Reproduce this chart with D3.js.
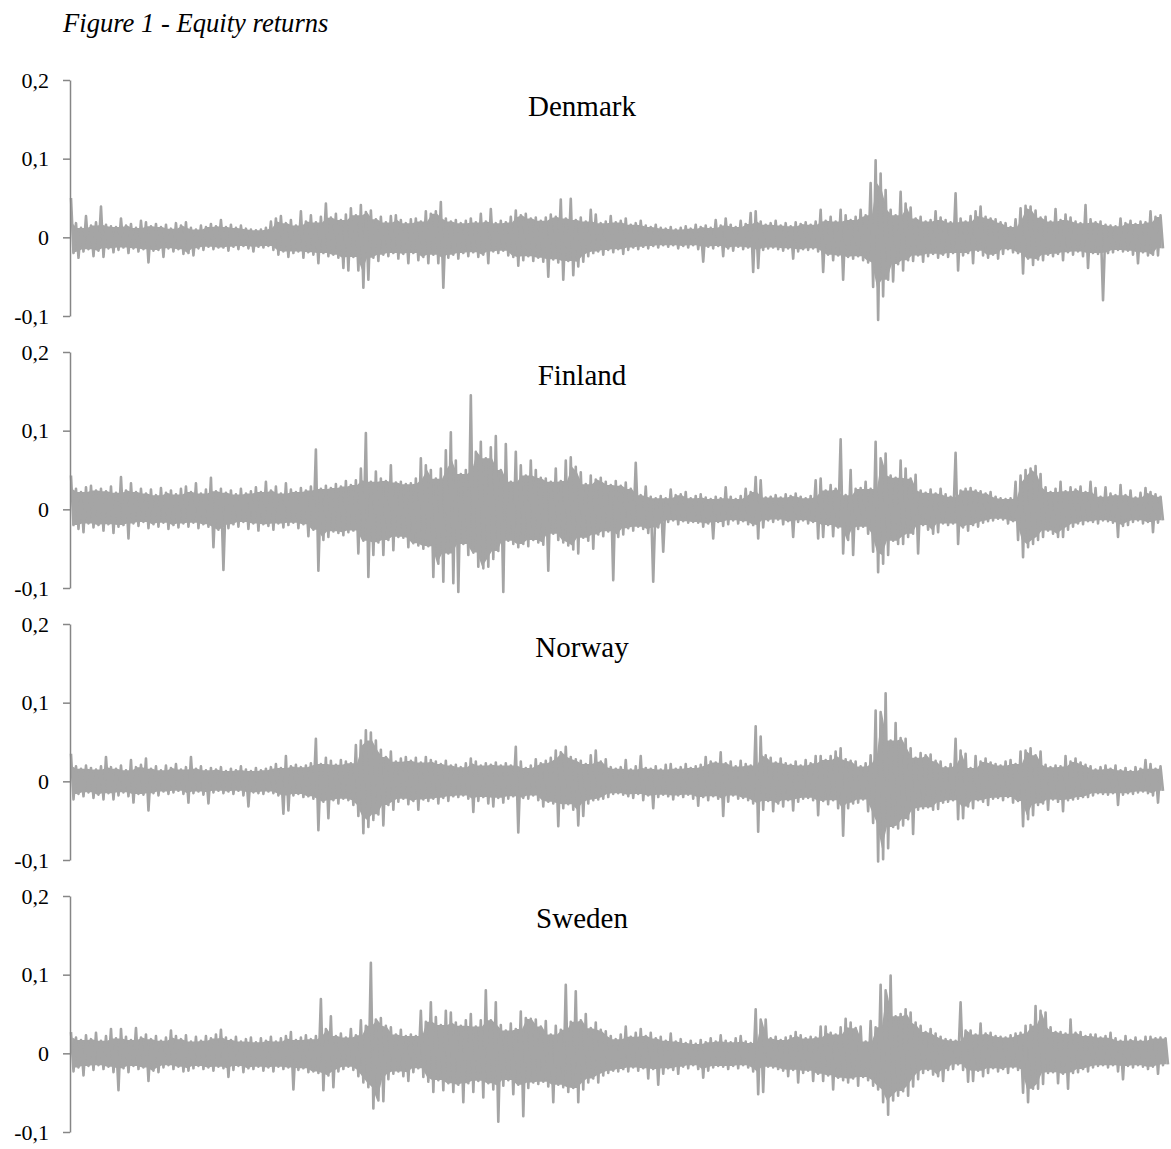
<!DOCTYPE html>
<html>
<head>
<meta charset="utf-8">
<script src="https://cdn.jsdelivr.net/npm/d3@7"></script>
<style>
  body { margin: 0; background: #fff; }
</style>
</head>
<body>
<svg id="chart" width="1171" height="1149"></svg>
<script>
// Daily equity returns (percent). Each pair high/low is the highest and the
// lowest return within one short run of consecutive trading days.
const countries = ["Denmark", "Finland", "Norway", "Sweden"];
const yTicks = [-0.1, 0, 0.1, 0.2];
const title = "Figure 1 - Equity returns";

const denmarkHigh = [
  5.0,1.8,1.2,2.7,1.5,1.9,3.9,1.6,1.4,1.3, 2.4,1.5,1.7,1.2,2.1,1.9,1.4,1.7,1.3,1.6,
  1.1,1.8,1.5,1.9,1.2,1.0,1.5,1.3,1.7,1.4, 2.2,1.3,1.6,1.2,1.5,1.1,1.0,0.9,1.0,1.2,
  2.0,2.4,2.7,1.8,2.2,1.5,3.3,2.0,2.8,1.9, 2.6,4.3,2.5,3.0,2.2,2.9,3.7,2.8,4.1,3.2,
  3.4,2.3,2.6,1.9,2.7,2.8,2.2,1.8,2.3,2.4, 2.0,3.3,3.0,3.3,4.5,2.4,2.0,2.2,1.8,2.1,
  2.4,1.9,3.0,2.0,3.6,1.8,2.1,1.9,2.6,3.4, 2.8,3.0,2.4,2.5,2.1,2.5,2.9,2.6,4.8,2.4,
  4.9,2.2,2.5,2.0,3.5,2.9,1.8,2.0,2.7,1.9, 2.1,2.4,1.6,1.8,2.1,1.5,1.3,1.6,1.2,1.1,
  1.3,1.0,1.2,1.4,1.1,1.6,1.3,1.5,1.2,2.2, 1.5,2.4,1.6,1.3,2.1,1.7,3.1,3.3,2.0,1.6,
  1.8,2.1,1.5,1.8,1.4,1.9,1.7,1.9,1.6,2.0, 3.5,2.1,2.6,2.0,3.5,2.8,2.2,2.6,3.5,2.8,
  6.9,9.8,8.1,6.0,3.5,2.8,5.8,4.3,3.8,2.4, 2.6,2.0,2.2,3.3,2.5,2.2,1.9,5.6,2.4,2.0,
  2.7,3.3,3.9,2.6,2.4,2.3,1.9,1.8,1.3,2.3, 3.7,4.0,3.9,3.4,2.5,2.6,2.0,3.6,2.2,2.9,
  2.5,2.0,1.8,4.1,2.3,1.9,2.0,1.6,1.5,1.4, 2.4,1.8,2.1,1.7,2.0,1.9,3.3,2.6,2.8
];
const denmarkLow = [
  -2.0,-2.6,-1.8,-1.5,-2.4,-1.7,-2.5,-1.4,-1.9,-1.6, -1.3,-2.0,-1.4,-1.8,-1.5,-3.2,-1.7,-1.6,-2.5,-1.4,
  -1.8,-1.5,-2.1,-2.0,-2.3,-1.4,-1.6,-1.2,-1.5,-1.3, -1.3,-1.7,-1.2,-1.5,-1.1,-1.4,-1.8,-1.2,-1.3,-1.1,
  -1.6,-2.2,-1.8,-2.5,-2.0,-1.8,-2.6,-1.9,-2.2,-3.3, -2.0,-2.4,-2.2,-2.6,-3.9,-4.2,-2.5,-4.2,-6.4,-5.4,
  -2.6,-3.0,-2.2,-2.4,-2.0,-2.7,-2.1,-3.3,-2.0,-2.9, -2.5,-3.3,-2.2,-3.3,-6.4,-2.6,-2.2,-2.7,-2.0,-2.4,
  -1.9,-2.5,-2.2,-3.3,-1.8,-2.0,-1.7,-2.3,-2.5,-3.6, -2.9,-2.4,-3.0,-2.6,-3.1,-5.0,-2.8,-3.2,-5.4,-3.0,
  -4.8,-3.7,-3.1,-2.4,-2.0,-1.8,-2.2,-1.6,-1.9,-1.5, -2.1,-1.6,-1.3,-1.5,-1.2,-1.4,-1.1,-1.3,-1.0,-1.2,
  -1.0,-1.4,-1.1,-1.3,-1.0,-1.5,-3.1,-1.2,-1.4,-1.1, -2.4,-1.4,-1.7,-1.2,-1.5,-1.3,-4.4,-3.9,-1.6,-1.4,
  -1.3,-1.5,-1.7,-1.4,-2.7,-1.8,-1.5,-1.6,-1.4,-1.8, -4.4,-2.2,-2.9,-2.3,-5.4,-2.5,-2.7,-2.4,-2.9,-3.2,
  -6.3,-10.5,-7.5,-5.4,-5.6,-3.4,-4.2,-2.9,-3.0,-2.3, -3.1,-2.4,-2.1,-2.6,-2.2,-2.5,-2.0,-4.2,-2.3,-2.0,
  -3.3,-1.7,-2.3,-2.6,-2.2,-2.7,-2.1,-1.5,-1.9,-2.0, -4.6,-2.7,-3.5,-2.8,-2.9,-2.2,-2.4,-2.1,-2.9,-1.9,
  -2.2,-1.8,-2.4,-3.9,-2.0,-2.1,-8.0,-2.0,-1.9,-1.6, -1.8,-1.7,-2.2,-3.3,-1.9,-2.3,-2.2,-2.3,-1.4
];

const finlandHigh = [
  4.3,2.6,2.2,2.8,3.0,2.4,2.6,2.3,2.9,2.1, 4.1,2.4,3.3,2.2,2.6,2.0,2.5,1.8,2.7,2.1,
  2.4,1.9,2.6,2.9,2.2,3.3,2.0,2.5,4.0,2.3, 2.6,2.1,2.4,1.9,2.6,2.0,2.3,2.8,2.2,3.5,
  2.4,2.9,2.0,3.3,2.5,2.2,2.7,2.4,2.9,7.6, 2.6,3.0,2.7,3.2,2.9,3.6,3.1,3.7,5.2,9.7,
  3.5,4.8,3.9,3.6,5.6,3.4,3.5,3.2,3.3,3.9, 6.5,5.6,5.0,3.9,5.2,7.5,9.8,6.2,4.5,5.0,
  14.5,7.3,8.6,6.5,7.9,9.3,5.0,8.3,3.5,7.3, 5.6,4.3,6.2,5.0,4.0,3.9,3.5,5.2,3.6,6.2,
  6.6,5.4,4.7,3.2,4.3,3.8,4.0,3.5,3.1,3.6, 3.0,3.4,2.6,5.9,1.8,2.9,1.6,1.4,1.7,1.4,
  2.5,1.8,1.9,2.2,1.4,1.7,1.9,1.5,1.3,1.6, 1.4,2.8,1.6,1.3,1.7,2.6,2.2,4.1,3.7,1.5,
  1.6,1.8,1.5,1.9,1.7,2.0,1.6,1.4,1.7,3.7, 3.9,2.4,3.1,2.6,8.9,1.8,5.0,2.6,2.7,3.5,
  2.6,8.6,6.5,7.1,4.3,4.0,6.2,5.2,3.9,4.4, 2.4,2.1,2.5,2.0,2.6,1.9,1.6,7.2,2.4,2.6,
  2.7,2.4,2.3,2.0,2.2,1.6,1.4,1.3,1.4,3.5, 4.3,5.0,5.2,5.5,4.5,2.8,2.2,2.6,3.5,2.3,
  2.8,2.5,2.9,2.2,3.5,2.7,1.6,2.8,2.0,1.8, 3.1,1.8,2.4,1.5,2.1,2.7,2.2,1.9,1.6
];
const finlandLow = [
  -2.0,-2.5,-2.9,-1.8,-2.3,-2.0,-2.7,-1.9,-3.0,-2.2, -2.0,-3.7,-1.8,-2.1,-1.6,-2.4,-1.9,-2.2,-1.7,-2.5,
  -2.0,-2.3,-1.8,-2.2,-1.7,-2.4,-1.9,-2.2,-4.8,-2.6, -7.7,-2.4,-1.9,-2.2,-1.6,-2.5,-1.8,-2.7,-1.9,-2.1,
  -2.6,-1.8,-2.3,-2.0,-1.7,-2.4,-1.9,-3.4,-2.6,-7.8, -3.9,-3.5,-2.8,-3.0,-3.3,-2.9,-2.7,-5.6,-4.0,-8.6,
  -5.8,-4.2,-5.8,-3.9,-5.2,-3.5,-3.6,-4.8,-4.3,-4.6, -5.0,-4.7,-8.6,-6.9,-9.2,-5.6,-9.4,-10.5,-4.4,-5.8,
  -5.5,-7.3,-7.5,-7.3,-6.3,-5.3,-10.5,-4.0,-4.4,-4.8, -4.4,-4.7,-3.9,-4.2,-4.5,-7.8,-3.1,-3.9,-4.2,-4.6,
  -5.1,-5.6,-3.6,-4.0,-5.0,-3.2,-3.4,-2.8,-9.0,-3.5, -3.2,-2.4,-2.7,-2.2,-2.5,-3.0,-9.2,-2.3,-5.4,-1.6,
  -1.4,-1.9,-1.5,-1.7,-1.6,-1.7,-2.2,-1.8,-3.7,-1.6, -2.1,-1.9,-1.4,-1.8,-1.5,-1.9,-2.0,-3.7,-2.3,-1.4,
  -1.6,-1.3,-1.9,-1.5,-3.5,-1.6,-1.4,-1.8,-1.6,-3.7, -3.5,-2.0,-3.4,-2.3,-5.6,-3.9,-5.8,-2.5,-2.2,-3.1,
  -5.4,-8.0,-6.9,-5.8,-4.0,-4.4,-4.4,-3.5,-3.1,-5.6, -2.0,-2.6,-3.1,-2.9,-1.8,-2.0,-1.8,-4.4,-2.3,-2.7,
  -2.0,-2.2,-1.7,-1.5,-1.4,-1.2,-1.3,-1.8,-1.5,-3.9, -6.1,-4.8,-4.4,-3.9,-3.5,-2.7,-3.1,-3.5,-3.5,-2.6,
  -2.2,-1.8,-1.9,-1.5,-1.6,-1.8,-1.4,-1.5,-1.7,-3.5, -2.1,-2.0,-1.6,-1.4,-1.8,-1.6,-2.9,-1.7,-1.4
];

const norwayHigh = [
  3.5,1.9,1.6,2.0,1.7,1.5,1.9,3.1,1.8,1.6, 2.0,1.4,2.7,1.8,2.1,2.9,1.6,1.9,1.4,2.0,
  1.7,2.2,1.5,1.8,3.1,1.6,1.9,1.4,1.7,1.5, 1.8,1.3,1.6,1.4,1.9,1.5,1.3,1.7,1.4,1.6,
  1.8,2.2,1.7,3.2,1.9,2.1,1.8,2.0,2.3,5.4, 2.2,3.0,2.6,2.1,2.7,2.5,2.3,4.6,5.2,6.5,
  6.2,5.2,4.0,3.1,3.8,2.5,2.9,3.1,2.6,3.0, 2.4,3.1,2.7,2.5,2.2,2.6,2.0,2.1,1.8,2.3,
  2.9,2.5,2.0,2.3,2.1,2.4,2.0,2.3,2.0,4.4, 2.5,1.7,2.0,2.8,2.3,2.6,3.0,3.9,3.7,4.4,
  3.1,2.8,2.6,2.2,3.3,3.9,2.5,2.8,1.8,1.6, 1.8,2.7,1.5,1.9,3.2,1.7,1.6,1.9,1.5,2.1,
  2.2,1.6,1.8,2.2,1.7,1.9,2.1,3.1,2.5,2.4, 3.7,2.3,2.5,1.9,2.6,2.2,2.0,7.0,5.7,3.3,
  3.0,2.4,2.9,2.3,2.1,2.5,2.0,2.7,2.3,3.2, 3.2,2.7,3.2,3.8,4.2,2.8,2.6,2.5,1.9,2.3,
  3.3,9.0,8.8,11.2,5.2,7.4,5.5,5.4,4.2,3.0, 3.6,3.3,3.4,2.6,2.5,1.8,2.2,5.4,3.9,3.5,
  1.7,3.2,2.5,2.9,2.4,2.2,2.0,2.5,2.7,2.2, 3.8,3.9,4.2,3.3,3.8,2.1,1.8,2.0,1.9,3.2,
  2.5,2.9,2.4,2.1,1.9,1.5,1.8,2.0,1.6,2.0, 1.4,1.7,1.3,1.8,1.6,2.7,2.2,1.6,1.9
];
const norwayLow = [
  -2.3,-1.6,-1.9,-1.4,-2.1,-1.7,-2.3,-1.5,-2.3,-1.8, -1.4,-1.9,-2.7,-1.6,-1.7,-3.7,-1.5,-1.8,-1.3,-1.6,
  -1.4,-1.2,-1.6,-2.7,-1.5,-1.3,-1.7,-2.8,-1.4,-1.2, -1.5,-1.3,-1.6,-1.2,-1.8,-3.2,-1.4,-1.5,-1.6,-1.3,
  -1.5,-1.8,-4.1,-3.7,-1.8,-1.6,-2.0,-1.9,-2.2,-6.2, -2.6,-4.7,-2.4,-2.8,-2.2,-2.4,-3.0,-4.4,-6.6,-5.8,
  -4.9,-4.2,-5.6,-3.0,-3.6,-2.6,-2.2,-2.9,-2.5,-3.6, -2.3,-2.5,-2.2,-2.8,-2.1,-2.5,-1.9,-2.0,-1.8,-2.2,
  -3.9,-2.5,-2.0,-2.8,-3.2,-2.1,-2.7,-2.2,-1.9,-6.5, -2.1,-2.2,-1.8,-2.4,-3.2,-2.6,-2.8,-5.7,-3.4,-2.9,
  -3.6,-5.6,-4.4,-2.8,-2.4,-2.3,-2.2,-2.0,-1.6,-1.5, -1.7,-1.9,-2.1,-1.6,-2.4,-1.8,-3.4,-2.0,-1.7,-1.9,
  -2.3,-1.8,-2.0,-1.7,-2.2,-3.1,-2.0,-2.4,-1.9,-2.2, -4.4,-2.6,-1.8,-2.2,-2.1,-2.4,-2.8,-6.4,-3.6,-2.5,
  -3.8,-2.8,-3.2,-2.4,-3.7,-2.6,-2.2,-2.1,-2.4,-4.3, -2.5,-2.9,-2.4,-3.4,-6.9,-3.4,-2.8,-2.7,-2.3,-3.8,
  -5.3,-10.2,-9.9,-8.5,-5.8,-6.0,-5.6,-4.8,-6.7,-3.6, -3.4,-3.3,-3.6,-3.5,-2.7,-2.6,-2.4,-4.8,-4.7,-3.2,
  -3.4,-2.4,-2.6,-3.0,-2.2,-2.1,-2.4,-2.0,-2.7,-2.5, -5.7,-4.8,-4.3,-3.0,-2.8,-3.6,-2.3,-2.6,-3.8,-2.4,
  -2.3,-2.2,-2.0,-2.0,-1.8,-1.5,-1.6,-1.7,-1.5,-3.0, -1.7,-1.5,-1.6,-1.4,-1.3,-1.5,-1.8,-2.7,-1.2
];

const swedenHigh = [
  2.7,2.0,1.7,2.3,1.8,2.6,1.6,2.2,3.1,1.9, 3.1,2.1,1.7,3.2,2.0,2.4,1.8,2.2,1.6,2.0,
  2.9,2.2,1.8,2.3,1.5,2.1,1.6,2.2,1.9,2.4, 3.0,2.0,1.7,2.1,1.5,1.8,2.0,1.4,1.9,1.6,
  2.1,1.5,1.9,2.2,2.7,1.7,2.0,2.3,1.8,2.2, 6.9,3.1,4.7,2.2,2.5,2.0,3.1,2.3,4.2,3.5,
  11.5,4.3,4.5,3.5,3.3,2.4,3.0,2.2,2.4,2.2, 5.4,4.0,6.5,4.6,3.6,5.4,5.2,3.9,3.5,4.2,
  5.0,3.4,4.2,8.0,4.2,6.5,3.6,2.9,3.8,3.1, 5.3,4.5,4.4,4.3,3.4,4.1,2.4,3.5,3.0,8.7,
  4.0,7.9,4.2,5.0,3.2,3.9,3.0,2.8,2.2,1.8, 2.4,3.4,2.1,2.6,3.1,2.2,2.6,1.9,2.1,1.6,
  2.5,1.5,1.8,1.3,1.6,1.2,1.7,1.4,1.9,1.5, 2.3,1.6,1.4,1.9,2.2,1.5,1.3,5.6,4.3,4.3,
  1.9,2.1,1.7,2.0,2.2,2.7,2.3,1.9,2.1,2.0, 3.4,3.4,2.6,2.4,3.3,4.4,3.9,3.2,3.4,1.5,
  4.1,3.3,8.7,8.0,9.9,4.7,5.0,5.6,5.2,3.9, 3.5,2.7,3.1,2.5,2.1,1.8,1.7,1.6,6.5,2.9,
  2.9,2.4,3.8,2.5,2.6,2.2,2.1,2.0,2.3,2.5, 2.6,3.5,3.6,6.0,5.4,5.2,3.3,2.7,2.7,2.5,
  4.3,2.6,2.7,2.2,2.4,2.4,2.0,2.2,2.6,1.9, 1.6,2.2,1.7,2.0,1.6,2.1,2.1,1.9,2.0,1.9
];
const swedenLow = [
  -2.3,-1.8,-2.8,-1.6,-2.1,-1.5,-2.0,-1.7,-2.4,-4.7, -1.9,-2.4,-1.6,-2.0,-1.8,-3.5,-2.2,-2.4,-1.8,-1.5,
  -2.0,-1.7,-2.3,-2.2,-1.9,-1.6,-2.0,-1.8,-2.2,-1.7, -1.9,-3.0,-2.1,-1.6,-2.4,-1.9,-2.0,-1.7,-2.2,-1.8,
  -2.3,-1.7,-2.0,-1.8,-4.6,-2.1,-1.9,-2.4,-2.3,-2.5, -4.7,-2.8,-4.3,-2.3,-2.0,-1.7,-2.1,-2.9,-3.7,-4.3,
  -7.0,-6.0,-6.1,-3.3,-2.6,-2.3,-2.9,-3.5,-2.4,-1.9, -3.0,-3.6,-4.9,-3.4,-4.7,-3.8,-4.9,-4.0,-6.2,-3.8,
  -4.9,-3.5,-5.6,-3.8,-4.6,-8.7,-4.1,-3.4,-5.2,-4.0, -8.0,-4.4,-3.7,-3.9,-3.6,-4.2,-6.2,-4.0,-4.3,-4.9,
  -4.4,-6.2,-4.6,-3.7,-3.2,-3.7,-2.8,-2.5,-2.2,-2.3, -2.0,-2.3,-1.8,-2.2,-1.9,-3.2,-2.0,-4.0,-2.6,-1.9,
  -2.1,-2.6,-1.7,-1.9,-1.5,-2.0,-3.1,-2.2,-1.8,-1.6, -1.7,-2.0,-1.6,-1.9,-1.5,-1.8,-2.3,-5.2,-4.9,-1.7,
  -1.8,-2.0,-2.2,-2.9,-2.1,-3.7,-2.5,-2.2,-3.5,-2.6, -3.5,-2.8,-4.6,-3.1,-3.4,-3.7,-3.2,-4.1,-3.0,-3.4,
  -4.1,-4.6,-6.2,-7.8,-6.0,-5.4,-4.8,-5.4,-4.2,-3.3, -2.5,-2.1,-2.7,-2.9,-3.5,-2.1,-2.0,-1.4,-2.1,-3.6,
  -3.5,-2.2,-2.9,-2.5,-1.9,-2.3,-2.0,-2.5,-1.8,-2.1, -5.0,-6.2,-4.5,-4.5,-3.9,-2.5,-2.4,-3.8,-2.6,-4.5,
  -2.5,-2.4,-2.0,-2.3,-1.8,-1.6,-1.5,-1.8,-1.5,-2.3, -3.3,-1.6,-1.8,-1.5,-1.7,-2.0,-1.7,-2.6,-1.5,-1.4
];

const seriesHigh = [denmarkHigh, finlandHigh, norwayHigh, swedenHigh];
const seriesLow = [denmarkLow, finlandLow, norwayLow, swedenLow];

// ---- layout ----
const SERIES_COLOR = "#A5A5A5";
const AXIS_COLOR = "#868686";
const FONT = "'Liberation Serif', 'Times New Roman', serif";
const axisX = 70;
const plotLeft = 71;
const panelTops = [80, 352, 624, 896];
const panelHeight = 236;
const panelRights = [1163, 1163, 1163, 1168];
const labelX = 582;
const labelDy = [36, 33, 33, 32];

const svg = d3.select("#chart");

svg.append("text")
  .attr("x", 63)
  .attr("y", 32)
  .attr("font-family", FONT)
  .attr("font-style", "italic")
  .attr("font-size", 26.6)
  .attr("fill", "#000")
  .text(title);

countries.forEach((name, k) => {
  const high = seriesHigh[k];
  const low = seriesLow[k];
  const n = high.length;
  const top = panelTops[k];

  const y = d3.scaleLinear().domain([-0.1, 0.2]).range([top + panelHeight, top]);
  const x = d3.scaleLinear().domain([0, n - 0.5]).range([plotLeft, panelRights[k]]);

  const g = svg.append("g").attr("class", "panel");

  // dense core of the return band: extremes shared with neighbouring runs
  const core = high.map((h, i) => ({
    t: i + 0.25,
    hi: Math.min(h, i > 0 ? high[i - 1] : h, i < n - 1 ? high[i + 1] : h) / 100,
    lo: Math.max(low[i], i > 0 ? low[i - 1] : low[i], i < n - 1 ? low[i + 1] : low[i]) / 100
  }));
  g.append("path")
    .datum(core)
    .attr("fill", SERIES_COLOR)
    .attr("d", d3.area().x(d => x(d.t)).y0(d => y(d.lo)).y1(d => y(d.hi)));

  // the return line itself, running through every high and low
  const seq = [];
  high.forEach((h, i) => {
    seq.push({ t: i, v: h / 100 });
    seq.push({ t: i + 0.5, v: low[i] / 100 });
  });
  g.append("path")
    .datum(seq)
    .attr("fill", "none")
    .attr("stroke", SERIES_COLOR)
    .attr("stroke-width", 2.6)
    .attr("stroke-linejoin", "round")
    .attr("d", d3.line().x(d => x(d.t)).y(d => y(d.v)));

  // vertical axis
  const axis = d3.axisLeft(y)
    .tickValues(yTicks)
    .tickSize(7)
    .tickSizeOuter(0)
    .tickPadding(14)
    .tickFormat(d => d === 0 ? "0" : String(d).replace(".", ","));
  const ag = svg.append("g").attr("transform", `translate(${axisX},0)`).call(axis);
  ag.select(".domain").attr("stroke", AXIS_COLOR).attr("stroke-width", 1.5);
  ag.selectAll(".tick line").attr("stroke", AXIS_COLOR).attr("stroke-width", 1.5);
  ag.selectAll(".tick text")
    .attr("font-family", FONT)
    .attr("font-size", 22)
    .attr("fill", "#000");

  // country name
  svg.append("text")
    .attr("x", labelX)
    .attr("y", top + labelDy[k])
    .attr("text-anchor", "middle")
    .attr("font-family", FONT)
    .attr("font-size", 29)
    .attr("fill", "#000")
    .text(name);
});
</script>
</body>
</html>
